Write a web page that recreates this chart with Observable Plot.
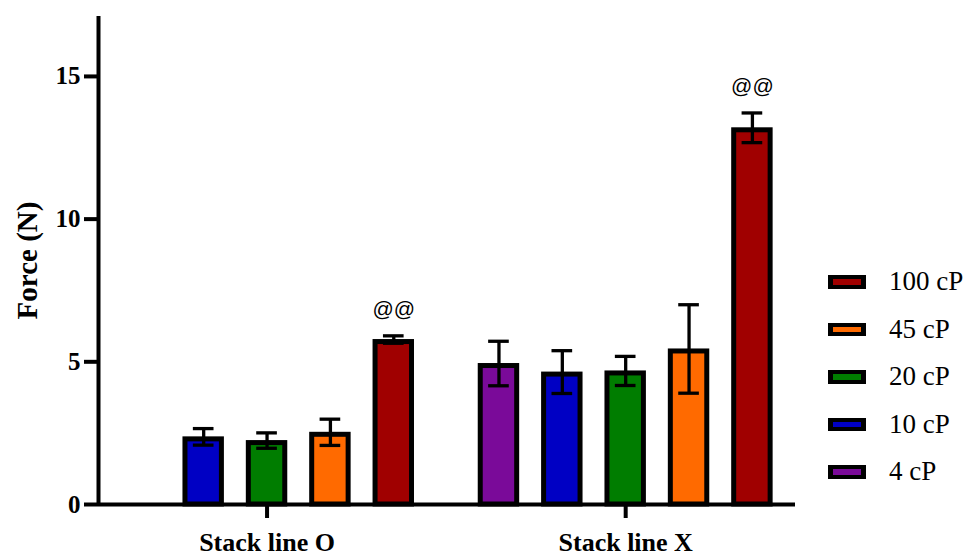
<!DOCTYPE html>
<html>
<head>
<meta charset="utf-8">
<script src="https://cdn.jsdelivr.net/npm/d3@7"></script>
<script src="https://cdn.jsdelivr.net/npm/@observablehq/plot@0.6"></script>
<style>
  html, body { margin: 0; padding: 0; background: #fff; }
  #wrap { position: relative; width: 970px; height: 558px; overflow: hidden; background: #fff; }
  #legend { position: absolute; left: 828px; top: 258px; font-family: "Liberation Serif", "Times New Roman", serif; font-size: 27px; color: #000; }
  .row { display: flex; align-items: center; height: 47.5px; }
  .sw { box-sizing: border-box; width: 38px; height: 13.5px; border-style: solid; border-color: #000; border-width: 4px 5px; margin-right: 23px; }
</style>
</head>
<body>
<div id="wrap"><div id="chart"></div><div id="legend"></div></div>
<script>
// ---- data ----
const groups = ["Stack line O", "Stack line X"];
const viscosities = ["4 cP", "10 cP", "20 cP", "45 cP", "100 cP"];
const colors = ["#7a0a99", "#0000c4", "#007d00", "#ff6a00", "#a00000"];
const meansO = [null, 2.37, 2.24, 2.53, 5.78];
const sdsO   = [null, 0.29, 0.27, 0.46, 0.13];
const meansX = [4.94, 4.64, 4.68, 5.45, 13.2];
const sdsX   = [0.78, 0.75, 0.51, 1.55, 0.52];
const sigO = ["", "", "", "", "@@"];
const sigX = ["", "", "", "", "@@"];
const yTicks = [0, 5, 10, 15];
const yLabel = "Force (N)";
const legendOrder = ["100 cP", "45 cP", "20 cP", "10 cP", "4 cP"];

// ---- layout constants (in slot units of the x scale) ----
const slotStart = 0.66, groupStep = 5.66, barHalf = 0.327, capHalf = 0.163;

const series = [[meansO, sdsO, sigO], [meansX, sdsX, sigX]];
const rows = [];
series.forEach(([m, s, sig], g) => {
  viscosities.forEach((v, i) => {
    if (m[i] == null) return;
    rows.push({group: groups[g], visc: v, mean: m[i], sd: s[i], sig: sig[i], pos: slotStart + g * groupStep + i});
  });
});
const groupCenters = groups.map((g, k) => slotStart + k * groupStep + 2);

const plot = Plot.plot({
  width: 970,
  height: 558,
  marginTop: 16,
  marginBottom: 54,
  marginLeft: 98,
  marginRight: 175,
  style: {fontFamily: "'Liberation Serif', 'Times New Roman', serif", background: "#fff", color: "#000"},
  x: {domain: [0, 11]},
  y: {domain: [0, 17.1]},
  color: {domain: viscosities, range: colors},
  marks: [
    Plot.rect(rows, {x1: d => d.pos - barHalf, x2: d => d.pos + barHalf, y1: 0, y2: "mean", fill: "visc",
      stroke: "#000", strokeWidth: 5, insetLeft: 2.5, insetRight: 2.5, insetTop: 2.5}),
    Plot.ruleX(rows, {x: "pos", y1: d => d.mean - d.sd, y2: d => d.mean + d.sd, stroke: "#000", strokeWidth: 3.3}),
    Plot.ruleY(rows, {y: d => d.mean + d.sd, x1: d => d.pos - capHalf, x2: d => d.pos + capHalf, stroke: "#000", strokeWidth: 3.3}),
    Plot.ruleY(rows, {y: d => d.mean - d.sd, x1: d => d.pos - capHalf, x2: d => d.pos + capHalf, stroke: "#000", strokeWidth: 3.3}),
    Plot.text(rows.filter(d => d.sig), {x: "pos", y: d => d.mean + d.sd, text: "sig", dy: -27,
      fontSize: 21, fontFamily: "'Liberation Sans', Arial, sans-serif", fill: "#000"}),
    Plot.ruleY([0], {stroke: "#000", strokeWidth: 4}),
    Plot.ruleX([0], {stroke: "#000", strokeWidth: 4}),
    Plot.axisY({ticks: yTicks, tickSize: 14, tickPadding: 4, strokeWidth: 4, fontSize: 25, fontWeight: "bold", label: null}),
    Plot.text([yLabel], {frameAnchor: "left", textAnchor: "middle", rotate: -90, dx: -71, fontSize: 29, fontWeight: "bold", fill: "#000"}),
    Plot.axisX(groupCenters, {tickSize: 14, tickPadding: 14, strokeWidth: 4, fontSize: 26, fontWeight: "bold",
      tickFormat: d => groups[groupCenters.indexOf(d)], label: null})
  ]
});
document.getElementById("chart").appendChild(plot);

// legend
const leg = document.getElementById("legend");
legendOrder.forEach(v => {
  const row = document.createElement("div");
  row.className = "row";
  const sw = document.createElement("div");
  sw.className = "sw";
  sw.style.background = colors[viscosities.indexOf(v)];
  const t = document.createElement("span");
  t.textContent = v;
  row.appendChild(sw); row.appendChild(t);
  leg.appendChild(row);
});
</script>
</body>
</html>
